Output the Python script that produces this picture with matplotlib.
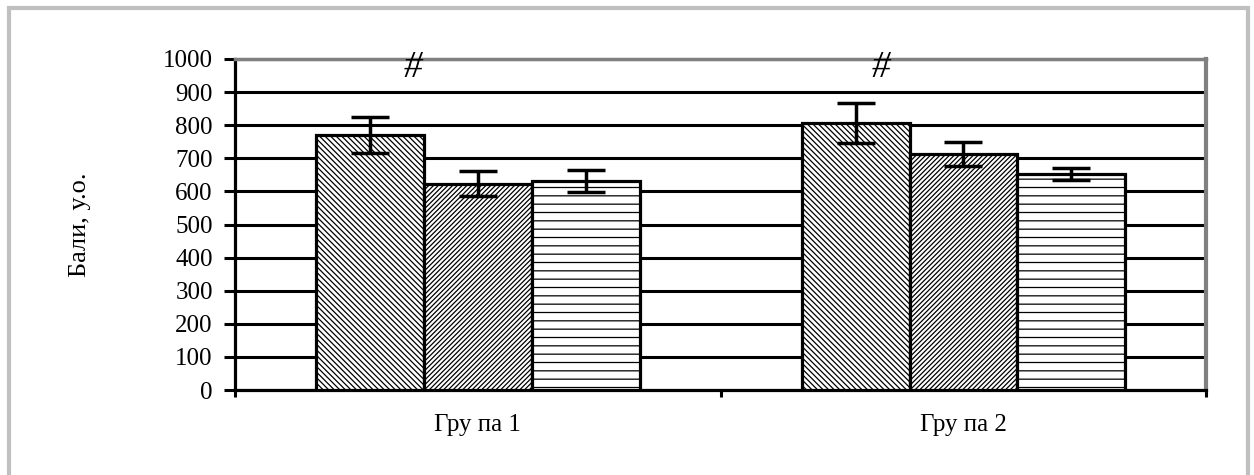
import numpy as np
import matplotlib.pyplot as plt
from matplotlib.patches import Rectangle

# data
groups = ["Гру па 1", "Гру па 2"]
series_a = [770, 807]
series_b = [623, 713]
series_c = [632, 653]
err_a = [55, 60]
err_b = [38, 37]
err_c = [33, 18]
hatches = ['\\' * 6, '/' * 7, '--']
yticks = list(range(0, 1001, 100))
marks = ["#", "#"]

plt.rcParams['font.family'] = ['Liberation Serif', 'DejaVu Serif']
plt.rcParams['hatch.linewidth'] = 0.9

fig = plt.figure(figsize=(12.54, 4.75), dpi=100)
ax = fig.add_axes([0.1874, 0.1789, 0.7745, 0.6969])

x = np.arange(len(groups))
w = 0.222
for i, (vals, errs, h) in enumerate(zip([series_a, series_b, series_c],
                                        [err_a, err_b, err_c], hatches)):
    pos = x + (i - 1) * w
    ax.bar(pos, vals, width=w, color='white', edgecolor='black',
           linewidth=2.3, hatch=h, zorder=3)
    ax.errorbar(pos, vals, yerr=errs, fmt='none', ecolor='black',
                elinewidth=2.5, capsize=13.5, capthick=2.5, zorder=4)

# '#' marks sit a bit right of the first bar's centre
mark_shift = [0.088, 0.052]
for i, m in enumerate(marks):
    ax.text(x[i] - w + mark_shift[i], 975, m, ha='center', va='center',
            fontsize=27, style='italic', zorder=5)

ax.set_xlim(-0.5, 1.5)
ax.set_ylim(0, 1000)
ax.set_yticks(yticks)
ax.set_yticklabels([str(v) for v in yticks], fontsize=18)
ax.yaxis.grid(True, color='black', linewidth=2.2, zorder=0)
ax.set_axisbelow(True)

ax.set_xticks([-0.5, 0.5, 1.5])
ax.set_xticklabels([])
ax.set_xticks(x, minor=True)
ax.set_xticklabels(groups, minor=True, fontsize=18)
ax.tick_params(axis='x', which='minor', length=0, pad=17)
ax.tick_params(axis='x', which='major', length=5, width=2.2)
ax.tick_params(axis='y', length=8, width=2.2, pad=8)

ax.spines['left'].set_linewidth(2.3)
ax.spines['bottom'].set_linewidth(2.3)
ax.spines['top'].set_color('#808080')
ax.spines['top'].set_linewidth(2.5)
ax.spines['right'].set_color('#808080')
ax.spines['right'].set_linewidth(3)

ax.set_ylabel("Бали, у.о.", fontsize=19, labelpad=52)

# outer grey frame
fig.patches.append(Rectangle((9 / 1254, -0.05), 1239 / 1254, 1.05 - 8 / 475,
                             transform=fig.transFigure, fill=False,
                             edgecolor='#c0c0c0', linewidth=3))

fig.savefig("out.png", dpi=100)
